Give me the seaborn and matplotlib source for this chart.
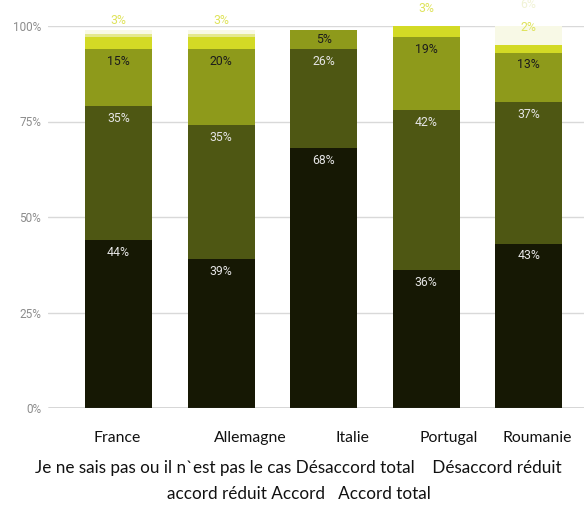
import numpy as np
import pandas as pd
import matplotlib
matplotlib.use("Agg")
import matplotlib.pyplot as plt
import seaborn as sns

# Survey answers per country, stacked from the bottom series upward (percent)
countries = ["France", "Allemagne", "Italie", "Portugal", "Roumanie"]
series = [
    "Je ne sais pas ou il n`est pas le cas",
    "Désaccord total",
    "Désaccord réduit",
    "accord réduit",
    "Accord",
    "Accord total",
]
je_ne_sais_pas = [44, 39, 68, 36, 43]
desaccord_total = [35, 35, 26, 42, 37]
desaccord_reduit = [15, 20, 5, 19, 13]
accord_reduit = [3, 3, 0, 3, 2]
accord = [1, 1, 0, 0, 0]
accord_total = [1, 1, 0, 0, 6]
y_ticks = [0, 25, 50, 75, 100]

values = [je_ne_sais_pas, desaccord_total, desaccord_reduit,
          accord_reduit, accord, accord_total]
colors = ["#161804", "#4e5713", "#8e9a1b", "#d3da25", "#e4e98e", "#f8f9e6"]
inside_text = ["#e4e4e4", "#e4e4e4", "#1c1c1c"]
outside_text = [None, None, None, "#dfe35c", "#e9ec9c", "#f1f3d6"]

rows = []
for name, vals in zip(series, values):
    for c, v in zip(countries, vals):
        rows.append({"pays": c, "serie": name, "pct": v})
df = pd.DataFrame(rows)

sns.set_theme(style="white")
plt.rcParams["font.family"] = ["Roboto", "DejaVu Sans"]

fig = plt.figure(figsize=(5.84, 5.05), dpi=100)
ax = fig.add_axes([48 / 584, 97 / 505, 536 / 584, 382 / 505])

bottom = np.zeros(len(countries))
for i, name in enumerate(series):
    sub = df[df["serie"] == name]
    sns.barplot(data=sub, x="pays", y="pct", order=countries, color=colors[i],
                bottom=bottom, width=0.654, linewidth=0, saturation=1,
                errorbar=None, ax=ax, zorder=3)
    vals = sub["pct"].to_numpy(dtype=float)
    for j, v in enumerate(vals):
        top = bottom[j] + v
        if i < 3 and v > 0:
            # main segments: value written just under the segment top
            y = max(top - 3.2, bottom[j] + v / 2)
            ax.text(j, y, f"{int(v)}%", ha="center", va="center", fontsize=8.8,
                    color=inside_text[i], zorder=5)
        elif i >= 3 and v >= 2:
            # thin upper segments: value written above the bar
            ax.text(j, top + 4.5, f"{int(v)}%", ha="center", va="center",
                    fontsize=8.8, color=outside_text[i], zorder=5, clip_on=False)
    bottom = bottom + vals

ax.set_xlim(-0.688, 4.54)
ax.set_ylim(0, 100)
ax.set_yticks(y_ticks)
ax.set_yticklabels([f"{t}%" for t in y_ticks], fontsize=8.5, color="#8c8c8c")
ax.tick_params(axis="y", length=0, pad=5)
ax.set_xticks([])
ax.set_xlabel("")
ax.set_ylabel("")
for t in y_ticks[1:]:
    ax.axhline(t, color="#d9d9d9", lw=1, zorder=1)
ax.axhline(0, color="#333333", lw=1, zorder=4)
for s in ax.spines.values():
    s.set_visible(False)

# Country names row and text legend below the plot
label_font = ["Lato", "DejaVu Sans"]
name_x = [117, 250, 352, 449, 537]
for c, x in zip(countries, name_x):
    fig.text(x / 584, 1 - 438 / 505, c, ha="center", va="center",
             fontsize=11.3, family=label_font, color="#111111")
fig.text(298 / 584, 1 - 468 / 505,
         f"{series[0]} {series[1]}    {series[2]}",
         ha="center", va="center", fontsize=12.3, family=label_font, color="#111111")
fig.text(299 / 584, 1 - 494 / 505,
         f"{series[3]} {series[4]}   {series[5]}",
         ha="center", va="center", fontsize=12.3, family=label_font, color="#111111")

fig.savefig("out.png", dpi=100)
